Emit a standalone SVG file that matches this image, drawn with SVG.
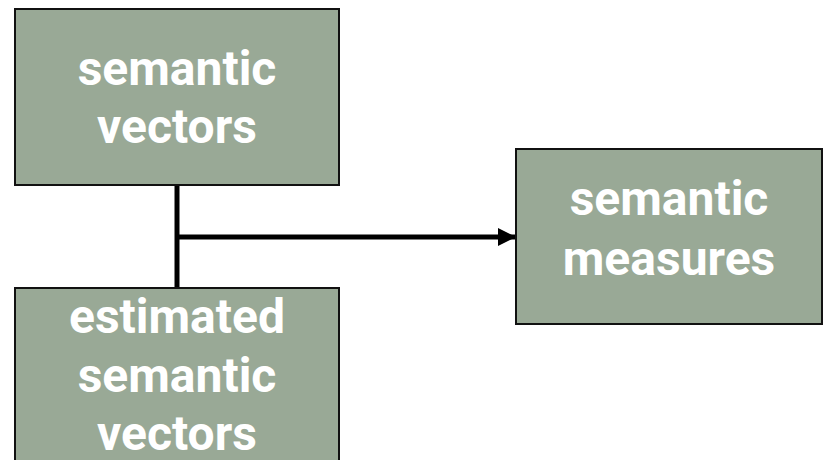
<svg xmlns="http://www.w3.org/2000/svg" width="824" height="460" viewBox="0 0 824 460">
  <style>
    .box { fill: #99a996; stroke: #111111; stroke-width: 2; }
    .label { font-family: Roboto, "Liberation Sans", sans-serif; font-weight: bold; font-size: 48px; fill: #ffffff; text-anchor: middle; }
    .wire { fill: none; stroke: #000000; stroke-width: 5; }
  </style>
  <defs>
    <marker id="arrow" markerUnits="userSpaceOnUse" markerWidth="20" markerHeight="20" refX="18" refY="9" orient="auto">
      <path d="M0,0 L18,9 L0,18 Z" fill="#000000"/>
    </marker>
  </defs>

  <g id="connectors">
    <path class="wire" d="M177,186 L177,288"/>
    <path class="wire" d="M177,237 L516,237" marker-end="url(#arrow)"/>
  </g>

  <g id="semantic-vectors">
    <rect class="box" x="15" y="9" width="324" height="176"/>
    <text class="label" x="177" y="85">semantic</text>
    <text class="label" x="177" y="143">vectors</text>
  </g>

  <g id="estimated-semantic-vectors">
    <rect class="box" x="15" y="288" width="324" height="180"/>
    <text class="label" x="177" y="333">estimated</text>
    <text class="label" x="177" y="392">semantic</text>
    <text class="label" x="177" y="450">vectors</text>
  </g>

  <g id="semantic-measures">
    <rect class="box" x="516" y="149" width="306" height="175"/>
    <text class="label" x="669" y="215">semantic</text>
    <text class="label" x="669" y="275">measures</text>
  </g>
</svg>
